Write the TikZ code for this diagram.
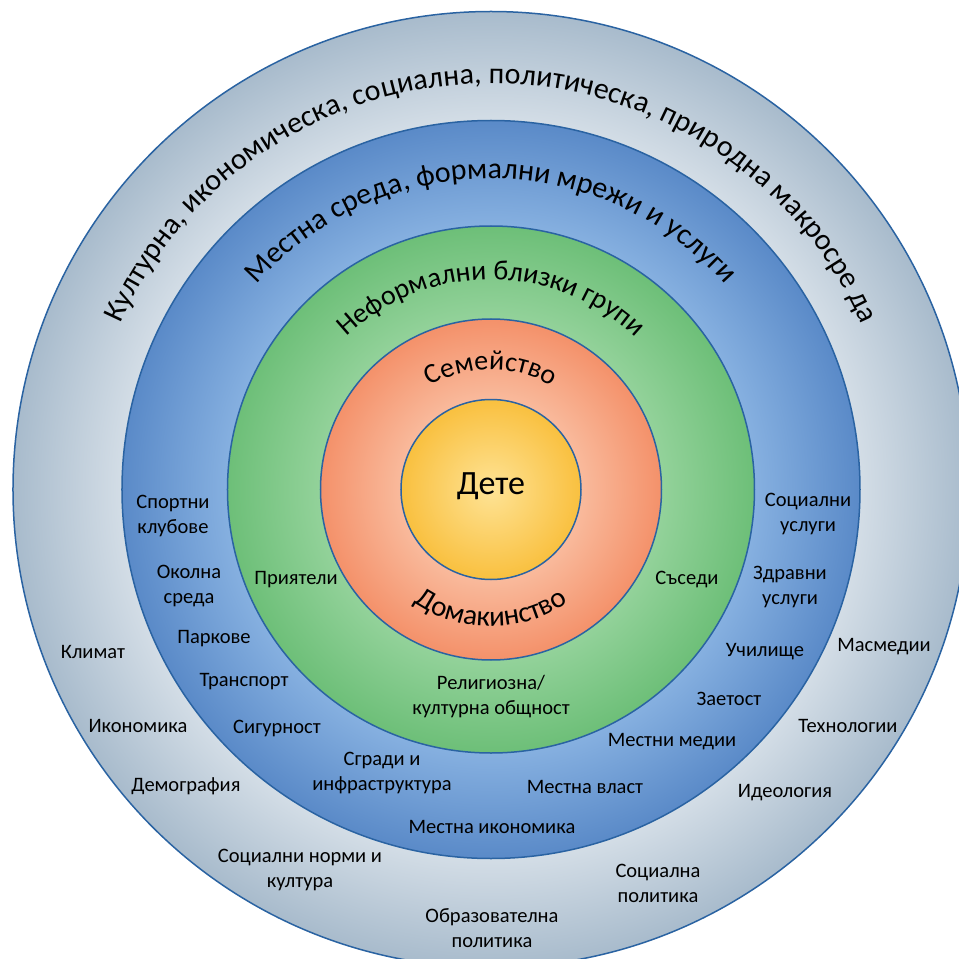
\documentclass[tikz,border=0pt]{standalone}
\usepackage{fontspec}
\setmainfont{Carlito}
\usetikzlibrary{decorations.text}

% ring colours: light tone toward the middle, darker tone at the rim
\definecolor{ringline}{HTML}{2A63A2}
\definecolor{greyIn}{HTML}{D3DDE6}
\definecolor{greyOut}{HTML}{A8BBCC}
\definecolor{blueIn}{HTML}{86B0E0}
\definecolor{blueOut}{HTML}{5A8AC8}
\definecolor{greenIn}{HTML}{93D29A}
\definecolor{greenOut}{HTML}{6DBF78}
\definecolor{orangeIn}{HTML}{F9BA9C}
\definecolor{orangeOut}{HTML}{F4916A}
\definecolor{yellowIn}{HTML}{FEE395}
\definecolor{yellowOut}{HTML}{F9C03F}

% radial shadings, 25bp = rim of the filled disc
\pgfdeclareradialshading{macroShade}{\pgfpoint{0bp}{0bp}}{color(0bp)=(greyIn); color(19.3bp)=(greyIn); color(25bp)=(greyOut); color(50bp)=(greyOut)}
\pgfdeclareradialshading{localShade}{\pgfpoint{0bp}{0bp}}{color(0bp)=(blueIn); color(17.85bp)=(blueIn); color(25bp)=(blueOut); color(50bp)=(blueOut)}
\pgfdeclareradialshading{closeShade}{\pgfpoint{0bp}{0bp}}{color(0bp)=(greenIn); color(16.2bp)=(greenIn); color(25bp)=(greenOut); color(50bp)=(greenOut)}
\pgfdeclareradialshading{familyShade}{\pgfpoint{0bp}{0bp}}{color(0bp)=(orangeIn); color(13.2bp)=(orangeIn); color(25bp)=(orangeOut); color(50bp)=(orangeOut)}
\pgfdeclareradialshading{childShade}{\pgfpoint{0bp}{0bp}}{color(0bp)=(yellowIn); color(25bp)=(yellowOut); color(50bp)=(yellowOut)}

\newcommand\ringfont{\fontsize{28}{34}\selectfont}
\newcommand\bigringfont{\fontsize{30}{36}\selectfont}

\tikzset{
  ring/.style={draw=ringline, line width=1.5pt},
  lbl/.style={font=\fontsize{20.5}{25}\selectfont, align=center, inner sep=0pt},
  arctext/.style={decorate, decoration={text along path, text align=center, text={#1}}}
}

\begin{document}
\begin{tikzpicture}[x=1pt,y=1pt]
\useasboundingbox (-491,-469.5) rectangle (468,489.5);
\clip (-491,-469.5) rectangle (468,489.5);

% nested discs
\path[ring, shading=macroShade]  (0,0) circle[radius=478];
\path[ring, shading=localShade]  (0,0) circle[radius=369];
\path[ring, shading=closeShade]  (0,0) circle[radius=263.5];
\path[ring, shading=familyShade] (0,0) circle[radius=170.5];
\path[ring, shading=childShade]  (0,0) circle[radius=90];

% ring titles set along arcs
\path[arctext={|\bigringfont|Културна, икономическа, социална, политическа, природна макросре да}]
  (200:406) arc[start angle=200, end angle=-20, radius=406];
\path[arctext={|\bigringfont|Местна среда, формални мрежи и услуги}]
  (190:311) arc[start angle=190, end angle=-10, radius=311];
\path[arctext={|\ringfont|Неформални близки групи}]
  (180:210) arc[start angle=180, end angle=0, radius=210];
\path[arctext={|\ringfont|Семейство}]
  (170:120) arc[start angle=170, end angle=10, radius=120];
\path[arctext={|\fontsize{29}{34}\selectfont|Домакинство}]
  (190:137) arc[start angle=190, end angle=350, radius=137];

% centre
\node[font=\fontsize{34}{40}\selectfont, anchor=base, inner sep=0pt] (child) at (0,-4.5) {Дете};

% informal close groups
\node[lbl] (friends)    at (-195,-90.5)  {Приятели};
\node[lbl] (neighbours) at (196,-90.5)   {Съседи};
\node[lbl] (religion)   at (0,-207.5)    {Религиозна/\\културна общност};

% local environment, formal networks and services
\node[lbl] (sport)     at (-318,-26.5)  {Спортни\\клубове};
\node[lbl] (environ)   at (-302,-96.5)  {Околна\\среда};
\node[lbl] (parks)     at (-277,-149.5) {Паркове};
\node[lbl] (transport) at (-247,-192.5) {Транспорт};
\node[lbl] (safety)    at (-214,-238.5) {Сигурност};
\node[lbl] (buildings) at (-109,-283.5) {Сгради и\\инфраструктура};
\node[lbl] (localecon) at (1,-337.5)    {Местна икономика};
\node[lbl] (localgov)  at (94,-297.5)   {Местна власт};
\node[lbl] (localmed)  at (181,-252.5)  {Местни медии};
\node[lbl] (employ)    at (238,-209.5)  {Заетост};
\node[lbl] (school)    at (274,-162.5)  {Училище};
\node[lbl] (health)    at (299,-97.5)   {Здравни\\услуги};
\node[lbl] (social)    at (317,-24.5)   {Социални\\услуги};

% cultural, economic, social, political and natural macro environment
\node[lbl] (climate)   at (-398,-162.5) {Климат};
\node[lbl] (economy)   at (-353,-236.5) {Икономика};
\node[lbl] (demogr)    at (-305,-296.5) {Демография};
\node[lbl] (norms)     at (-191,-380.5) {Социални норми и\\култура};
\node[lbl] (edupol)    at (1,-438.5)    {Образователна\\политика};
\node[lbl] (socpol)    at (167,-393.5)  {Социална\\политика};
\node[lbl] (ideology)  at (294,-303.5)  {Идеология};
\node[lbl] (tech)      at (357,-236.5)  {Технологии};
\node[lbl] (massmedia) at (393,-157.5)  {Масмедии};
\end{tikzpicture}
\end{document}
